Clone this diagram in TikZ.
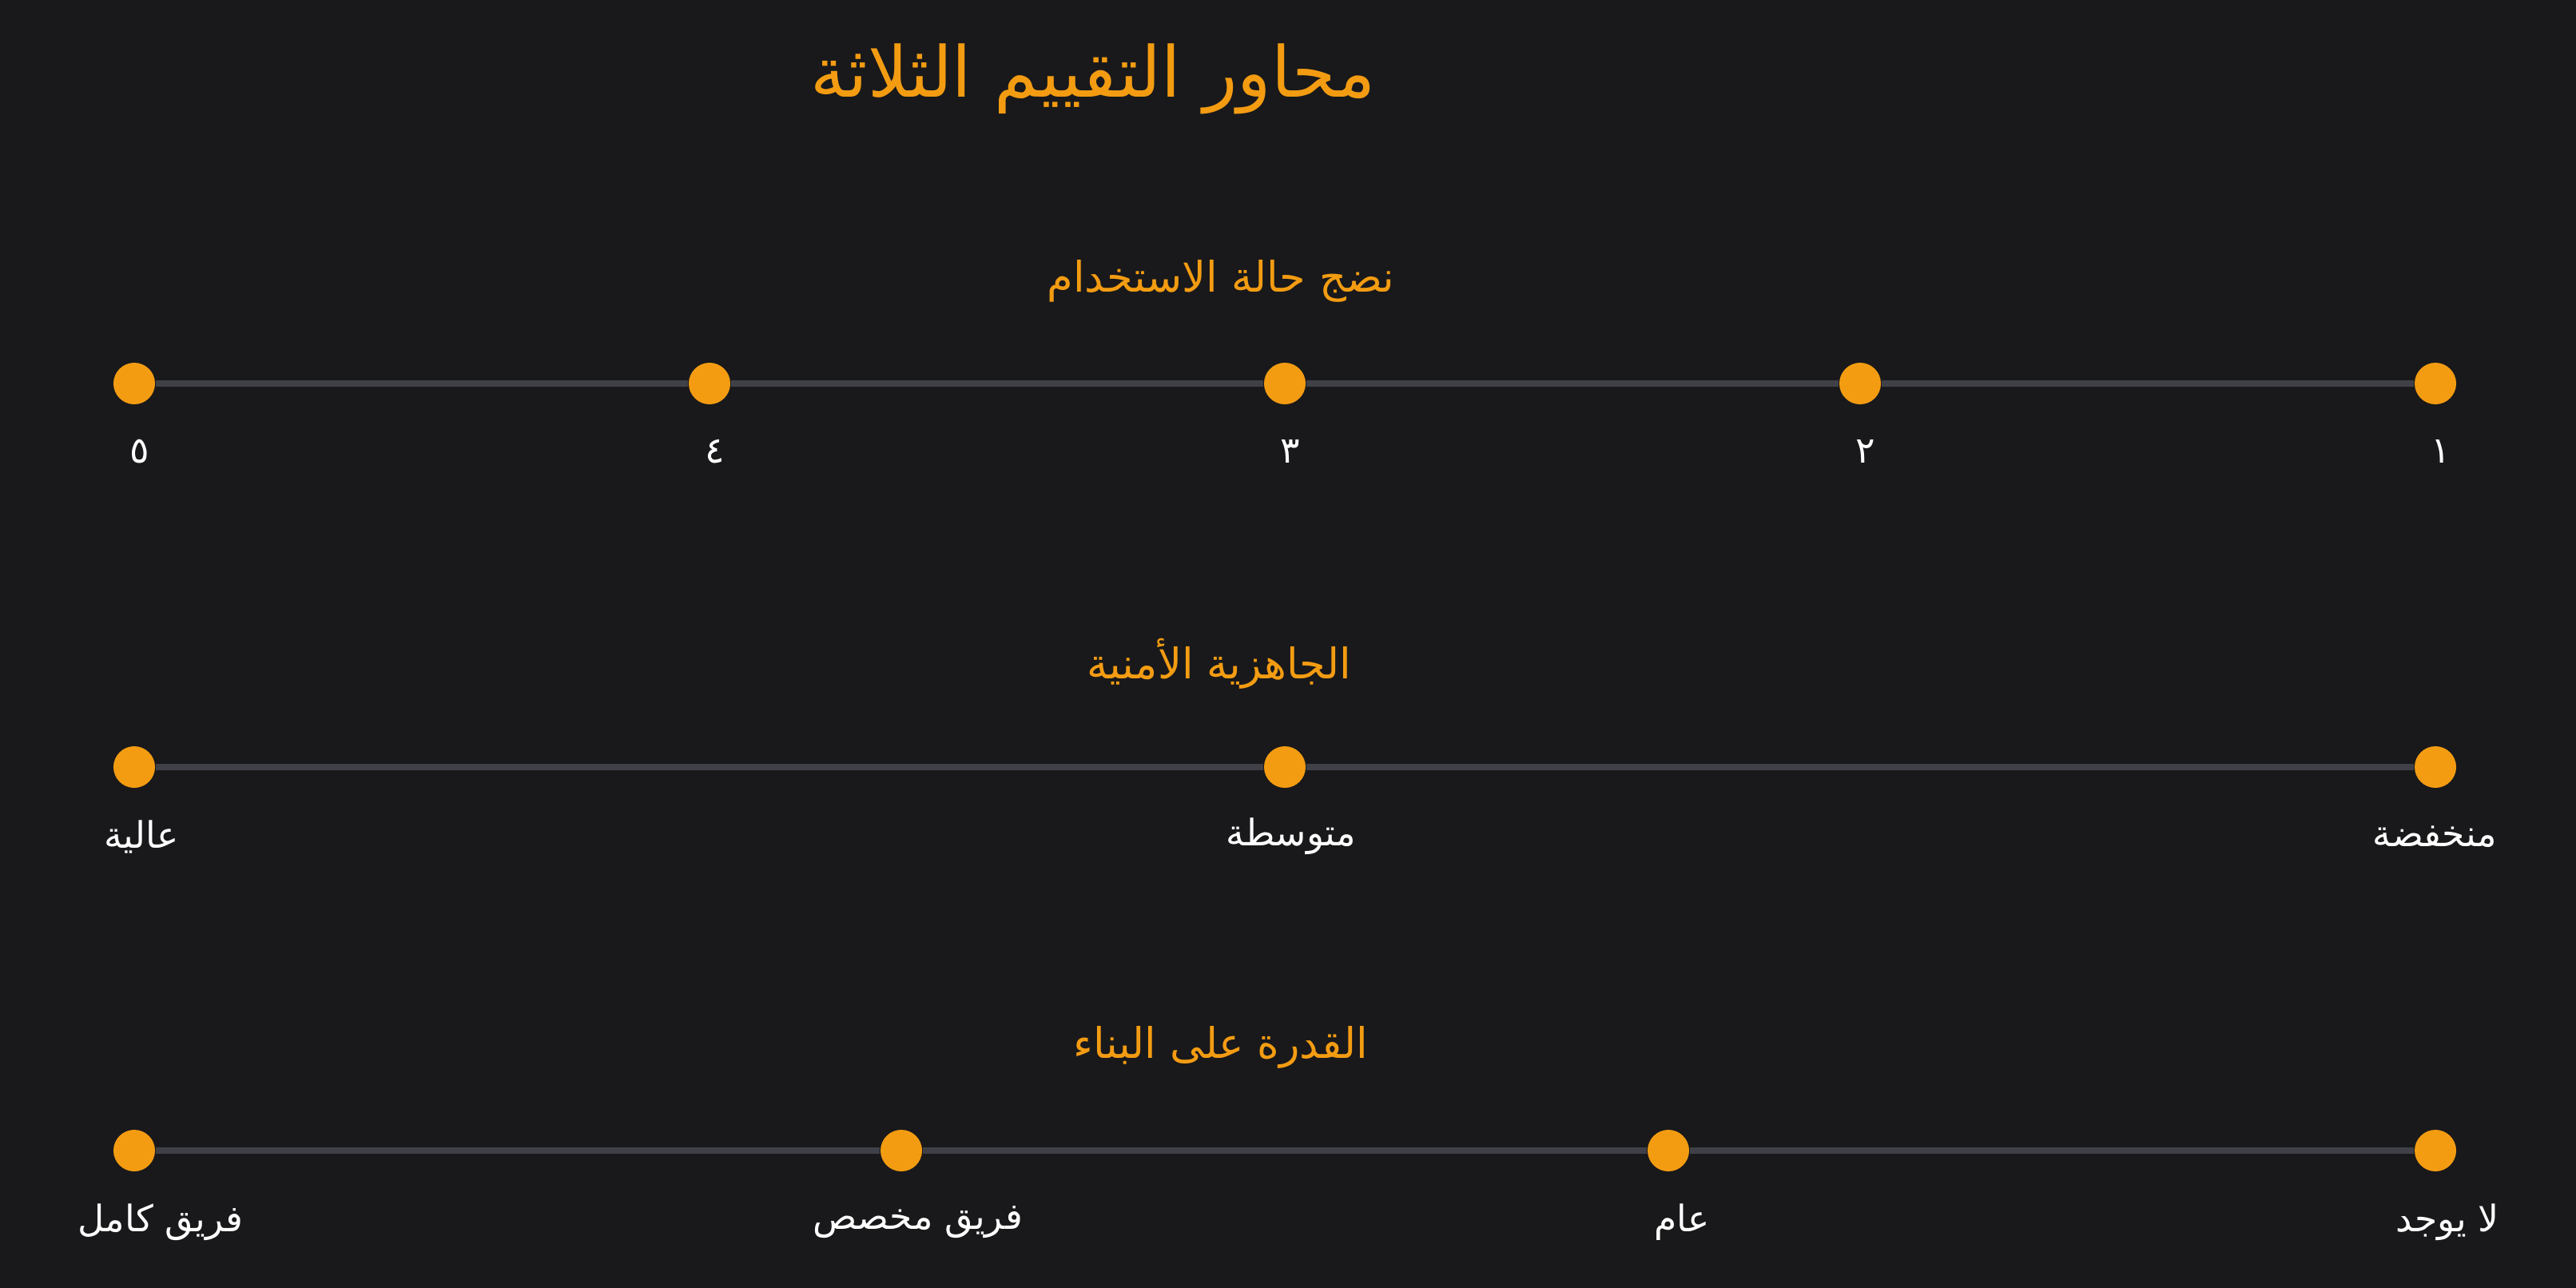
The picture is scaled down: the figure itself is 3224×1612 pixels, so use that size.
\documentclass[tikz,border=0pt]{standalone}
\usepackage{fontspec}
\newfontfamily\arabicfont[Script=Arabic]{DejaVu Sans}
\TeXXeTstate=1
\usepackage{tikz}
\definecolor{bgdark}{HTML}{19191B}
\definecolor{track}{HTML}{404148}
\definecolor{accent}{HTML}{F39C12}

\begin{document}
\begin{tikzpicture}[x=0.01cm, y=-0.01cm,
		dot/.style={circle, fill=accent, inner sep=0pt, minimum size=0.52cm},
		rail/.style={track, line width=2.3pt},
		heading/.style={text=accent, font=\arabicfont\fontsize{15}{18}\selectfont},
		tag/.style={text=white, font=\arabicfont\fontsize{13}{16}\selectfont}]
			\fill[bgdark](0, 0) rectangle (3224, 1612);
			\useasboundingbox(0, 0) rectangle (3224, 1612);
			\node[text=accent, font=\arabicfont\fontsize{25}{30}\selectfont](title)at(1368, 99){\beginR محاور التقييم الثلاثة\endR};
			% row 1
			\node[heading](usecase)at(1528, 352){\beginR نضج حالة الاستخدام\endR};
			\node[dot](u5)at(168, 480){};
			\node[dot](u4)at(888, 480){};
			\node[dot](u3)at(1608, 480){};
			\node[dot](u2)at(2328, 480){};
			\node[dot](u1)at(3048, 480){};
			\draw[rail](u5)--(u4) (u4)--(u3) (u3)--(u2) (u2)--(u1);
			\node[tag](lu5)at(175, 565){\beginR ٥\endR};
			\node[tag](lu4)at(895, 565){\beginR ٤\endR};
			\node[tag](lu3)at(1615, 565){\beginR ٣\endR};
			\node[tag](lu2)at(2335, 565){\beginR ٢\endR};
			\node[tag](lu1)at(3055, 565){\beginR ١\endR};
			% row 2
			\node[heading](security)at(1526, 831){\beginR الجاهزية الأمنية\endR};
			\node[dot](s3)at(168, 960){};
			\node[dot](s2)at(1608, 960){};
			\node[dot](s1)at(3048, 960){};
			\draw[rail](s3)--(s2) (s2)--(s1);
			\node[tag](ls3)at(177, 1047){\beginR عالية\endR};
			\node[tag](ls2)at(1616, 1047){\beginR متوسطة\endR};
			\node[tag](ls1)at(3047, 1047){\beginR منخفضة\endR};
			% row 3
			\node[heading](build)at(1528, 1311){\beginR القدرة على البناء\endR};
			\node[dot](b4)at(168, 1440){};
			\node[dot](b3)at(1128, 1440){};
			\node[dot](b2)at(2088, 1440){};
			\node[dot](b1)at(3048, 1440){};
			\draw[rail](b4)--(b3) (b3)--(b2) (b2)--(b1);
			\node[tag](lb4)at(201, 1530){\beginR فريق كامل\endR};
			\node[tag](lb3)at(1149, 1530){\beginR فريق مخصص\endR};
			\node[tag](lb2)at(2105, 1530){\beginR عام\endR};
			\node[tag](lb1)at(3063, 1530){\beginR لا يوجد\endR};
		\end{tikzpicture}
\end{document}
